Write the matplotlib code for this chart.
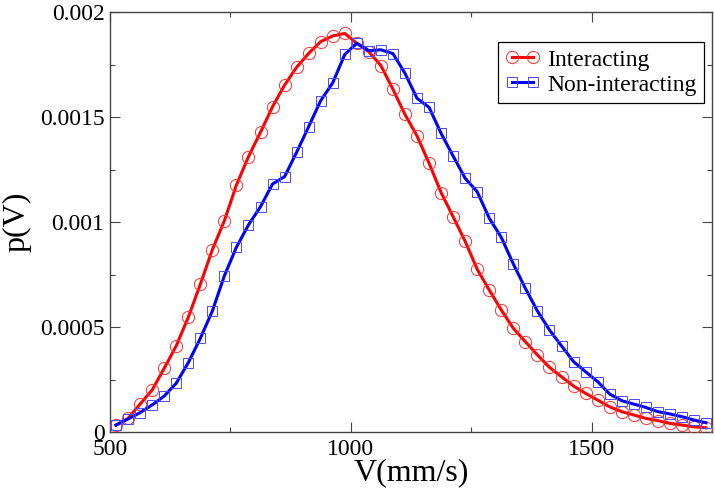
import numpy as np
import matplotlib
matplotlib.use("Agg")
import matplotlib.pyplot as plt

# bin centres (mm/s)
v = [512.5 + 25 * k for k in range(50)]

p_interacting = [
    3.3e-5, 6.5e-5, 1.33e-4, 2.0e-4, 3.03e-4, 4.1e-4, 5.46e-4, 7.03e-4, 8.68e-4, 1.006e-3,
    1.176e-3, 1.311e-3, 1.427e-3, 1.549e-3, 1.652e-3, 1.737e-3, 1.803e-3, 1.859e-3, 1.886e-3, 1.898e-3,
    1.851e-3, 1.811e-3, 1.745e-3, 1.632e-3, 1.512e-3, 1.41e-3, 1.28e-3, 1.14e-3, 1.025e-3, 0.908e-3,
    0.775e-3, 0.676e-3, 0.581e-3, 0.494e-3, 0.430e-3, 0.367e-3, 0.308e-3, 0.263e-3, 0.219e-3, 0.184e-3,
    0.152e-3, 0.120e-3, 0.097e-3, 0.081e-3, 0.065e-3, 0.054e-3, 0.041e-3, 0.033e-3, 0.025e-3, 0.020e-3,
]

p_noninteracting = [
    0.033e-3, 0.062e-3, 0.092e-3, 0.129e-3, 0.171e-3, 0.232e-3, 0.330e-3, 0.446e-3, 0.576e-3, 0.744e-3,
    0.880e-3, 0.986e-3, 1.073e-3, 1.181e-3, 1.216e-3, 1.332e-3, 1.454e-3, 1.578e-3, 1.663e-3, 1.798e-3,
    1.851e-3, 1.816e-3, 1.820e-3, 1.802e-3, 1.708e-3, 1.589e-3, 1.546e-3, 1.422e-3, 1.314e-3, 1.208e-3,
    1.144e-3, 1.018e-3, 0.927e-3, 0.800e-3, 0.684e-3, 0.576e-3, 0.486e-3, 0.410e-3, 0.335e-3, 0.287e-3,
    0.240e-3, 0.181e-3, 0.149e-3, 0.133e-3, 0.117e-3, 0.097e-3, 0.086e-3, 0.073e-3, 0.057e-3, 0.044e-3,
]

x_ticks = [500, 1000, 1500]
x_tick_labels = ["500", "1000", "1500"]
y_ticks = [0, 0.0005, 0.001, 0.0015, 0.002]
y_tick_labels = ["0", "0.0005", "0.001", "0.0015", "0.002"]

plt.rcParams['font.family'] = ['Liberation Serif', 'DejaVu Serif']

fig = plt.figure(figsize=(7.15, 4.91), dpi=100)
ax = fig.add_axes([110 / 715, 1 - 432 / 491, 602 / 715, 420 / 491])

ax.plot(v, p_interacting, color='#ff0000', lw=2.2, marker='o', ms=8.8,
        mfc='none', mec='#ff3030', mew=0.7, label='Interacting', zorder=3)
ax.plot(v, p_noninteracting, color='#0000ff', lw=2.2, marker='s', ms=7.2,
        mfc='none', mec='#4a4aff', mew=0.7, label='Non-interacting', zorder=4)

ax.set_xlim(500, 1750)
ax.set_ylim(0, 0.002)
ax.set_xticks(x_ticks)
ax.set_xticklabels(x_tick_labels)
ax.set_yticks(y_ticks)
ax.set_yticklabels(y_tick_labels)
ax.set_xticks([750, 1250], minor=True)
ax.set_yticks([0.00025, 0.00075, 0.00125, 0.00175], minor=True)

ax.tick_params(which='both', direction='in', top=True, right=True,
               color='#444444', width=0.8, labelsize=17)
ax.tick_params(which='major', length=7.5)
ax.tick_params(which='minor', length=3.8)
ax.tick_params(axis='x', pad=5)
ax.tick_params(axis='y', pad=4)

for s in ax.spines.values():
    s.set_color('#444444')
    s.set_linewidth(1.0)

ax.set_xlabel('V(mm/s)', fontsize=23, labelpad=-1)
ax.set_ylabel('p(V)', fontsize=23, labelpad=6)

leg = ax.legend(loc='upper right', bbox_to_anchor=(0.9867, 0.9286), borderaxespad=0,
                fontsize=17, numpoints=2, handlelength=1.5, handletextpad=0.3,
                fancybox=False, framealpha=1, edgecolor='black',
                borderpad=0.3, labelspacing=0.15)
leg.get_frame().set_linewidth(0.9)

fig.savefig('out.png', dpi=100)
